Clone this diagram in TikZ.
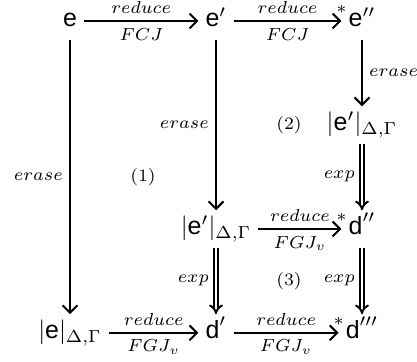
\documentclass[tikz,border=0pt]{standalone}
\usepackage{amsmath,amssymb}
\usepackage{fontspec}
\setsansfont{Liberation Sans}
\usetikzlibrary{arrows.meta,calc}

\newcommand{\tm}[1]{\textsf{#1}}

\begin{document}
\begin{tikzpicture}[->, >={Straight Barb[length=3pt,width=6pt]}, auto, node distance=2.06cm, thick,
    obj/.style={text height=1.5ex, text depth=.4ex, inner xsep=2.5pt, inner ysep=3pt},
    lbl/.style={font=\scriptsize, inner sep=2.5pt},
    iter/.style={font=\scriptsize, pos=1, anchor=south, inner sep=2.5pt},
    dbl/.style={double, double distance=1pt, -{Implies}}]
    \useasboundingbox (-0.988,0.296) rectangle (4.896,-4.811);

    \node[obj] (e) {$\tm{e}$};
    \node[obj] (e1) [right of=e] {$\tm{e}'$};
    \node[obj] (e2) [right of=e1] {$\tm{e}''$};
    \node[obj] (er) [below of=e2, node distance=1.467cm] {$|\tm{e}'|_{\Delta,\Gamma}$};
    \node[obj] (em) [below of=e1, node distance=2.934cm] {$|\tm{e}'|_{\Delta,\Gamma}$};
    \node[obj] (d2) [right of=em] {$\tm{d}''$};
    \node[obj] (eb) [below of=e, node distance=4.40cm] {$|\tm{e}|_{\Delta,\Gamma}$};
    \node[obj] (d1) [right of=eb] {$\tm{d}'$};
    \node[obj] (d3) [right of=d1] {$\tm{d}'''$};

    \path
        (e) edge node[lbl] {$reduce$} node[lbl, swap] {$FCJ$} (e1)
            edge node[lbl, swap] {$erase$} (eb)
        (e1) edge node[lbl] {$reduce$} node[lbl, swap] {$FCJ$} node[iter] {$*$} (e2)
             edge node[lbl, swap] {$erase$} (em)
        (e2) edge node[lbl] {$erase$} (er)
        (er) edge[dbl] node[lbl, swap] {$exp$} (d2)
        (em) edge node[lbl] {$reduce$} node[lbl, swap] {$FGJ_v$} node[iter] {$*$} (d2)
             edge[dbl] node[lbl, swap] {$exp$} (d1)
        (d2) edge[dbl] node[lbl, swap] {$exp$} (d3)
        (eb) edge node[lbl] {$reduce$} node[lbl, swap] {$FGJ_v$} (d1)
        (d1) edge node[lbl] {$reduce$} node[lbl, swap] {$FGJ_v$} node[iter] {$*$} (d3);

    \node[lbl] (c1) at ($(e)!.5!(d1)$) {(1)};
    \node[lbl] (c2) at ($(e1)!.5!(d2)$) {(2)};
    \node[lbl] (c3) at ($(em)!.5!(d3)$) {(3)};
\end{tikzpicture}
\end{document}
